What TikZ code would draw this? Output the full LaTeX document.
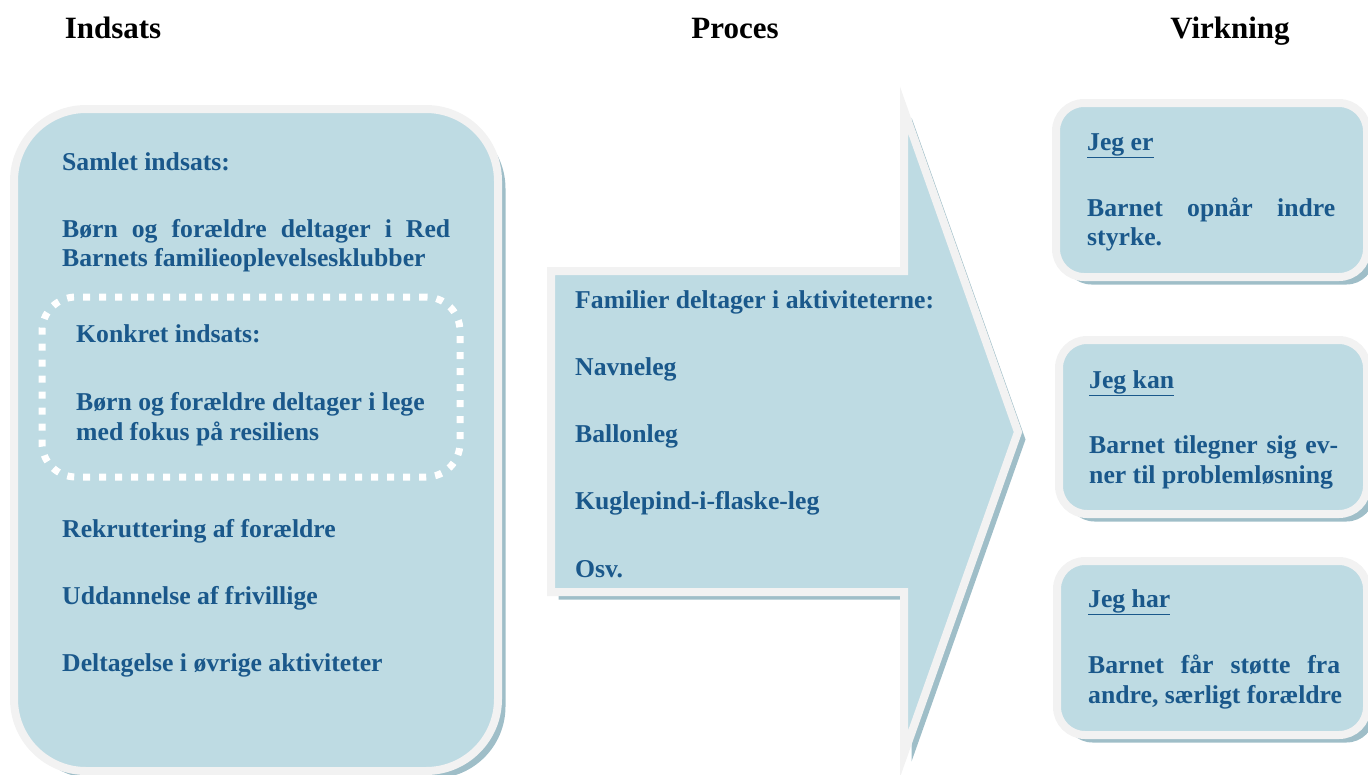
\documentclass[tikz,border=0pt]{standalone}
\usepackage{fontspec}
\setmainfont{Liberation Serif}
\usetikzlibrary{shadows}
\definecolor{fillc}{HTML}{BEDBE3}
\definecolor{rimc}{HTML}{F2F2F2}
\definecolor{shadc}{HTML}{9FBEC8}
\definecolor{txtc}{HTML}{1A588B}
\tikzset{
  panel/.style={draw=rimc, line width=8pt, fill=fillc,
    drop shadow={shadow xshift=7.5pt, shadow yshift=-7.5pt, fill=shadc, opacity=1}},
  dotbox/.style={draw=white, line width=7pt, dash pattern=on 7pt off 9pt, rounded corners=34pt},
  txt/.style={anchor=base west, inner sep=0pt, text=txtc, font=\fontsize{25.7}{30}\selectfont\bfseries},
  head/.style={anchor=base, inner sep=0pt, text=black, font=\fontsize{31}{36}\selectfont\bfseries}
}
\begin{document}
\begin{tikzpicture}[x=1pt,y=-1pt]
\useasboundingbox (0,0) rectangle (1368,774);
\clip (0,0) rectangle (1368,774);
% headers
\node[head] (h1) at (113,38) {Indsats};
\node[head] (h2) at (735,38) {Proces};
\node[head] (h3) at (1230,38) {Virkning};
% left panel
\node[panel, rounded corners=72pt, minimum width=484pt, minimum height=662pt] (indsats) at (256,440) {};
\node[dotbox, minimum width=418pt, minimum height=180pt] (konkret) at (251,387) {};
\node[txt] (l1) at (62,170) {Samlet indsats:};
\node[txt] (l2) at (62,237) {\makebox[388pt][s]{Børn og forældre deltager i Red}};
\node[txt] (l3) at (62,266) {Barnets familieoplevelsesklubber};
\node[txt] (l4) at (76,342) {Konkret indsats:};
\node[txt] (l5) at (76,410) {Børn og forældre deltager i lege};
\node[txt] (l6) at (76,440) {med fokus på resiliens};
\node[txt] (l7) at (62,537) {Rekruttering af forældre};
\node[txt] (l8) at (62,604) {Uddannelse af frivillige};
\node[txt] (l9) at (62,671) {Deltagelse i øvrige aktiviteter};
% arrow
\path[panel] (551,271) -- (904,271) -- (904,110) -- (1018,432) -- (904,754) -- (904,592) -- (551,592) -- cycle;
\node[txt] (m1) at (575,308) {Familier deltager i aktiviteterne:};
\node[txt] (m2) at (575,375) {Navneleg};
\node[txt] (m3) at (575,442) {Ballonleg};
\node[txt] (m4) at (575,509) {Kuglepind-i-flaske-leg};
\node[txt] (m5) at (575,577) {Osv.};
% right panels
\node[panel, rounded corners=28pt, minimum width=311pt, minimum height=174pt] (er) at (1211.5,190) {};
\node[panel, rounded corners=28pt, minimum width=308pt, minimum height=174pt] (kan) at (1213,427) {};
\node[panel, rounded corners=28pt, minimum width=310pt, minimum height=174pt] (har) at (1212,648) {};
\node[txt] (r1) at (1087,150) {\underline{Jeg er}};
\node[txt] (r2) at (1087,216) {\makebox[248pt][s]{Barnet opnår indre}};
\node[txt] (r3) at (1087,245) {styrke.};
\node[txt] (r4) at (1089,388) {\underline{Jeg kan}};
\node[txt] (r5) at (1089,453) {\makebox[249pt][s]{Barnet tilegner sig ev-}};
\node[txt] (r6) at (1089,483) {ner til problemløsning};
\node[txt] (r7) at (1088,607) {\underline{Jeg har}};
\node[txt] (r8) at (1088,673) {\makebox[252pt][s]{Barnet får støtte fra}};
\node[txt] (r9) at (1088,703) {andre, særligt forældre};
\end{tikzpicture}
\end{document}
